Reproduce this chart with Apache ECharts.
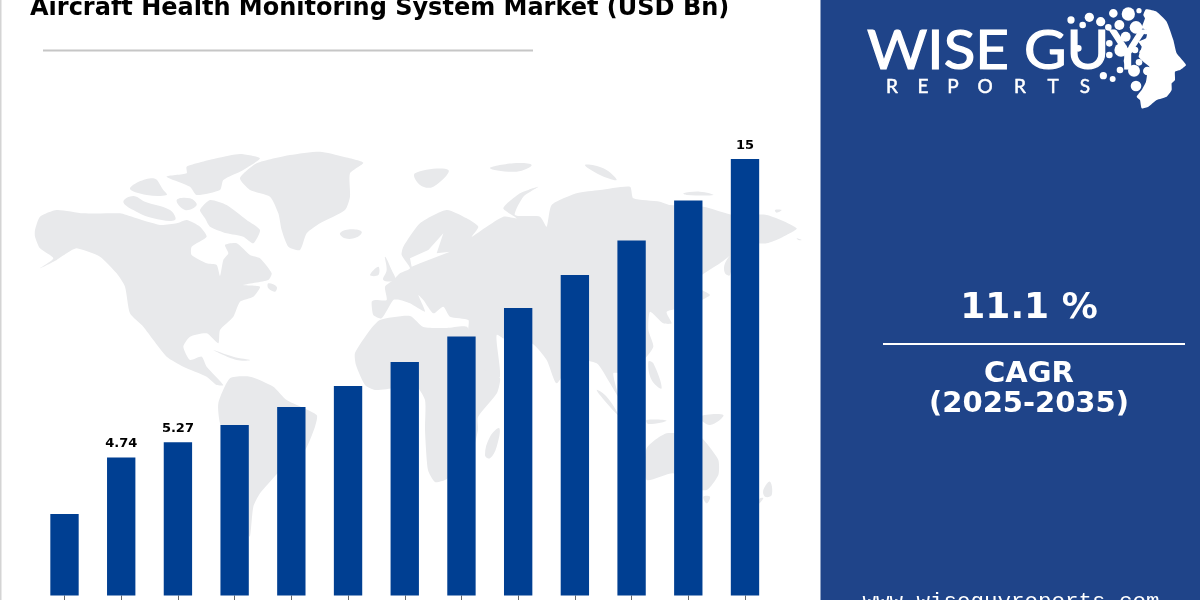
<!DOCTYPE html>
<html><head><meta charset="utf-8">
<style>html,body{margin:0;padding:0;background:#fff;overflow:hidden}#c{width:1200px;height:600px}</style>
<script src="https://cdn.jsdelivr.net/npm/echarts@6/dist/echarts.min.js"></script>
</head><body><div id="c"></div>
<script>
// ---------- data ----------
const categories = ['2023','2024','2025','2026','2027','2028','2029','2030','2031','2032','2033','2034','2035'];
const marketValues = [2.8,4.74,5.27,5.86,6.48,7.2,8.02,8.9,9.88,11.01,12.2,13.57,15];
const labelledCategories = ['2024','2025','2035'];
const titleText = 'Aircraft Health Monitoring System Market (USD Bn)';
const cagrValue = '11.1 %';
const cagrLabel = 'CAGR';
const cagrPeriod = '(2025-2035)';
const siteText = 'www.wiseguyreports.com';
const reportsLetters = ['R','E','P','O','R','T','S'];

// ---------- decorative layer (world map backdrop and logo artwork) ----------
const MAP = '#e8e9eb', PANEL = '#1f4489', BAR = '#003f92';
const from = (ox, oy, pts) => pts.map(p => [ox + p[0] / 3, oy + p[1] / 3]);
const za = p => from(20, 130, p), zb = p => from(400, 130, p), zc = p => from(190, 310, p), zd = p => from(600, 400, p);
const land = [
 // North America
 za([[45,300],[60,260],[110,240],[190,250],[300,250],[340,262],[420,285],[470,280],[500,270],[540,290],[560,320],[515,350],[515,375],[560,400],[590,405],[600,438],[610,390],[625,370],[615,345],[650,340],[690,375],[720,385],[755,430],[745,450],[670,465],[720,470],[700,500],[660,515],[640,560],[600,600],[595,640],[560,610],[510,620],[490,650],[510,690],[545,680],[560,710],[610,765],[590,765],[560,740],[490,710],[440,680],[400,630],[370,590],[330,550],[315,470],[290,430],[240,380],[170,355],[140,370],[110,390],[60,415],[100,385],[60,355],[45,320]]),
 // Arctic islands
 za([[540,240],[570,210],[620,225],[680,270],[720,300],[700,340],[670,320],[620,310],[570,290],[555,265]]),
 za([[310,215],[340,198],[375,215],[450,240],[465,270],[400,265],[340,240]]),
 za([[330,175],[400,145],[430,180],[440,195],[380,195]]),
 za([[500,110],[590,85],[660,72],[720,85],[670,120],[610,150],[600,180],[530,195],[510,170],[440,140],[500,130]]),
 za([[470,210],[510,205],[530,225],[495,240]]),
 // Greenland, Iceland, Newfoundland, Caribbean, British Isles
 za([[660,145],[710,100],[810,75],[900,65],[970,80],[1030,98],[990,130],[990,200],[975,240],[900,280],[860,310],[840,360],[805,350],[785,300],[775,250],[750,200],[690,180]]),
 za([[960,310],[990,298],[1025,305],[1010,322],[975,325]]),
 za([[745,460],[770,470],[765,485],[745,475]]),
 za([[580,660],[640,680],[690,690],[650,690]]),
 za([[1095,380],[1115,420],[1125,450],[1090,450],[1100,420]]),
 za([[1050,435],[1075,410],[1075,435]]),
 // South America
 zc([[85,280],[120,205],[180,200],[250,230],[290,270],[380,315],[375,350],[345,420],[300,450],[240,515],[210,550],[190,590],[180,680],[170,660],[140,560],[130,440],[90,340]]),
 // Eurasia
 zb([[-85,515],[-75,510],[-40,510],[-45,470],[-20,450],[0,430],[30,415],[5,375],[10,350],[60,280],[140,240],[200,265],[235,290],[215,320],[260,290],[310,260],[350,265],[310,235],[360,190],[415,170],[370,200],[345,255],[420,260],[440,290],[455,225],[530,190],[600,180],[690,170],[700,205],[780,215],[810,225],[910,230],[1000,255],[1100,255],[1190,295],[1150,320],[1100,340],[1040,340],[1000,370],[960,400],[900,440],[890,470],[930,495],[860,530],[800,545],[815,580],[790,580],[750,545],[745,600],[760,650],[730,690],[670,730],[640,730],[655,800],[630,760],[590,700],[520,690],[470,760],[440,690],[395,640],[330,640],[290,615],[300,740],[265,745],[230,690],[205,600],[205,570],[150,560],[130,530],[100,550],[70,510],[55,495],[75,545],[30,520],[0,510],[-20,510],[-55,565],[-80,555]]),
 // Africa
 from(0, 0, [[1065,1059],[1110,990],[1140,960],[1230,948],[1270,981],[1341,984],[1401,981],[1431,1050],[1446,1095],[1470,1125],[1500,1134],[1491,1179],[1434,1251],[1434,1290],[1410,1380],[1380,1410],[1335,1440],[1305,1446],[1284,1410],[1275,1290],[1275,1200],[1245,1155],[1185,1164],[1125,1170],[1095,1155],[1068,1095]]),
 zb([[255,975],[270,920],[298,895],[290,950],[270,985]]),
 // Australia and neighbours
 zd([[140,145],[200,100],[300,110],[320,130],[355,180],[355,225],[320,270],[260,260],[220,220],[140,240]]),
 zd([[310,290],[330,290],[320,310]]),
 zd([[490,270],[510,245],[515,285],[495,290]]),
 zd([[480,295],[490,295],[470,318]]),
 zb([[590,780],[620,800],[655,855],[625,825]]),
 zb([[745,695],[760,700],[785,775],[755,750]]),
 zb([[740,870],[800,872],[745,882]]),
 zb([[900,860],[970,855],[930,885]]),
 zb([[975,430],[975,400],[1000,370],[990,435]]),
 // Northern islands
 zb([[45,130],[145,120],[100,170],[60,165]]),
 zb([[270,115],[340,100],[395,105],[350,125]]),
 zb([[555,105],[610,115],[650,150],[600,135]]),
 zb([[850,190],[900,185],[940,195],[860,195]]),
 zb([[1125,240],[1145,240],[1130,248]]),
 zb([[1190,325],[1205,330],[1195,330]])
];
const seas = [
 zb([[85,360],[130,310],[110,370],[150,365],[60,400],[35,410],[30,385]]),
 zb([[290,615],[330,635],[400,650],[340,645]])
];
const headOutline = from(1060, 0, [[258,28],[290,35],[320,65],[340,120],[350,160],[378,195],[360,210],[345,215],[345,240],[335,250],[335,270],[320,290],[290,300],[265,320],[245,325],[240,300],[230,290],[245,270],[258,245],[262,220],[268,200],[250,185],[236,170],[245,140],[236,125],[258,115],[262,90],[245,85],[255,55],[250,45]]);
const dots = [[33,60,10],[88,52,13],[68,75,9],[122,65,13],[145,82,9],[160,40,12],[205,42,19],[237,32,7],[178,75,14],[228,82,18],[258,95,7],[197,110,14],[148,130,9],[183,150,19],[148,165,9],[225,150,9],[245,157,6],[202,183,10],[237,187,9],[180,210,9],[222,212,17],[262,213,12],[130,227,10],[158,237,8],[228,258,15],[55,145,9]];
const reportsX = [892,923,953,985,1020,1053,1085];

const poly = (points, fill, z, smooth) => ({type:'polygon', z, silent:true, shape:{points, smooth:smooth||0}, style:{fill}});
const txt = (text, x, y, font, extra) => ({type:'text', z:5, silent:true, x, y, style:Object.assign({text, font, fill:'#fff', align:'center', verticalAlign:'middle'}, extra||{})});

const decor = [
 {type:'rect', z:0, silent:true, shape:{x:0,y:0,width:1.5,height:600}, style:{fill:'#d4d4d4'}},
 ...land.map(p => poly(p, MAP, 0, p.length > 8 ? 0.2 : 0.4)),
 ...seas.map(p => poly(p, '#fff', 0, 0)),
 {type:'rect', z:3, silent:true, shape:{x:43,y:49.5,width:490,height:2}, style:{fill:'#c6c6c6'}},
 {type:'rect', z:3, silent:true, shape:{x:820.5,y:0,width:380,height:600}, style:{fill:PANEL}},
 {type:'rect', z:4, silent:true, shape:{x:883,y:343,width:302,height:2}, style:{fill:'#fff'}},
 txt(titleText, 30, 9, 'bold 24px "DejaVu Sans"', {fill:'#000', align:'left'}),
 txt(cagrValue, 1029, 309, 'bold 36px "DejaVu Sans"'),
 txt(cagrLabel, 1029, 374, 'bold 29px "DejaVu Sans"'),
 txt(cagrPeriod, 1029, 404, 'bold 29px "DejaVu Sans"'),
 txt(siteText, 1011, 602, '22.5px "Liberation Mono"'),
 {type:'text', z:5, silent:true, x:867, y:51, scaleX:1.06, style:{text:'WISE GUY', font:'55px Lato', fill:'#fff', stroke:'#fff', lineWidth:1.2, align:'left', verticalAlign:'middle'}},
 ...reportsLetters.map((c,i) => txt(c, reportsX[i], 87, '19px Lato', {stroke:'#fff', lineWidth:0.5})),
 poly(headOutline, '#fff', 5, 0.15),
 ...dots.map(d => ({type:'circle', z:5, silent:true, shape:{cx:1060+d[0]/3, cy:d[1]/3, r:d[2]/3+0.3}, style:{fill:'#fff'}}))
];

const chart = echarts.init(document.getElementById('c'), null, {renderer:'canvas'});
chart.setOption({
 animation:false,
 graphic:{elements:decor},
 grid:{left:36.15, right:1200-773.35, top:159, bottom:4.5},
 xAxis:{type:'category', data:categories, axisLine:{show:false},
  axisTick:{show:true, alignWithLabel:true, length:5, lineStyle:{color:'#666'}}, axisLabel:{show:false}},
 yAxis:{type:'value', min:0, max:15, show:false, splitLine:{show:false}},
 series:[{type:'bar', barWidth:'50%', z:2, itemStyle:{color:BAR},
  data:marketValues.map((v,i)=>({value:v, label:{show:labelledCategories.includes(categories[i])}})),
  label:{position:'top', distance:7, color:'#000', fontFamily:'DejaVu Sans', fontWeight:'bold', fontSize:13}}]
});
</script></body></html>
